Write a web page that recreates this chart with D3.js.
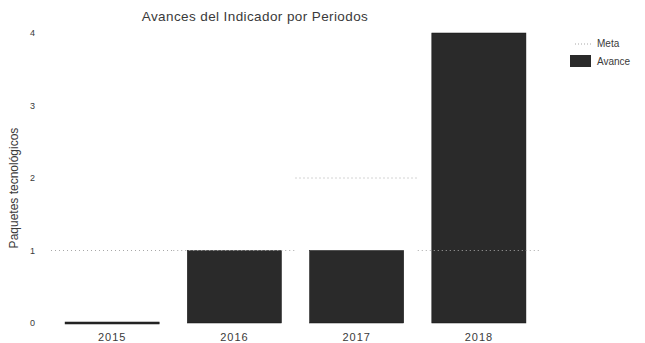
<!DOCTYPE html>
<html>
<head>
<meta charset="utf-8">
<script src="https://cdn.jsdelivr.net/npm/d3@7"></script>
<style>
  html, body { margin: 0; padding: 0; background: #fff; }
  svg { display: block; font-family: "Liberation Sans", Arial, sans-serif; }
</style>
</head>
<body>
<svg id="chart" width="645" height="343"></svg>
<script>
// Periods, progress (bars) and target per period
const periodos = ["2015", "2016", "2017", "2018"];
const avance = [0, 1, 1, 4];
const meta = [1, 1, 2, 1];
const yTicks = [0, 1, 2, 3, 4];

const titulo = "Avances del Indicador por Periodos";
const ejeY = "Paquetes tecnológicos";

const svg = d3.select("#chart");
const plot = { left: 51, right: 540, top: 33, bottom: 323 };

const x = d3.scaleBand()
  .domain(periodos)
  .range([plot.left, plot.right])
  .paddingInner(0.23)
  .paddingOuter(0.115);

const y = d3.scaleLinear()
  .domain([0, 4])
  .range([plot.bottom, plot.top]);

const textColor = "#3a3a3a";
const font = "Liberation Sans, Arial, sans-serif";

// Title
svg.append("text")
  .attr("x", 255).attr("y", 21)
  .attr("text-anchor", "middle")
  .attr("font-size", 13.5)
  .attr("letter-spacing", 0.4)
  .attr("fill", textColor)
  .text(titulo);

// Y axis (labels only)
const yAxis = svg.append("g")
  .attr("transform", `translate(${plot.left - 13},0)`)
  .call(d3.axisLeft(y).tickValues(yTicks).tickFormat(d3.format("d")).tickSize(0));
yAxis.select(".domain").remove();
yAxis.selectAll("text")
  .attr("font-size", 9).attr("fill", textColor)
  .attr("font-family", font);

// Y axis title
svg.append("text")
  .attr("transform", `translate(18,${(plot.top + plot.bottom) / 2 + 10}) rotate(-90)`)
  .attr("text-anchor", "middle")
  .attr("font-size", 12)
  .attr("fill", textColor)
  .text(ejeY);

// X axis (labels only)
const xAxis = svg.append("g")
  .attr("transform", `translate(0,${plot.bottom + 7})`)
  .call(d3.axisBottom(x).tickSize(0));
xAxis.select(".domain").remove();
xAxis.selectAll("text")
  .attr("font-size", 11).attr("letter-spacing", 1)
  .attr("fill", textColor)
  .attr("font-family", font);

// Bars
svg.append("g").selectAll("rect")
  .data(periodos)
  .join("rect")
  .attr("x", d => x(d))
  .attr("width", x.bandwidth())
  .attr("y", (d, i) => y(avance[i]) - (avance[i] === 0 ? 1 : 0))
  .attr("height", (d, i) => Math.max(2, y(0) - y(avance[i])))
  .attr("fill", "#2a2a2a")
  .attr("stroke", "#111")
  .attr("stroke-width", 0.5);

// Target: a faint dotted segment across each period's band
svg.append("g").selectAll("line")
  .data(periodos)
  .join("line")
  .attr("x1", d => x(d) - x.step() * x.paddingInner() / 2)
  .attr("x2", d => x(d) + x.bandwidth() + x.step() * x.paddingInner() / 2)
  .attr("y1", (d, i) => y(meta[i]))
  .attr("y2", (d, i) => y(meta[i]))
  .attr("stroke", "#a8a8a8")
  .attr("stroke-width", 1)
  .attr("stroke-dasharray", "1,3");

// Legend
const leg = svg.append("g").attr("transform", "translate(570,0)");
leg.append("line")
  .attr("x1", 5).attr("x2", 22).attr("y1", 44).attr("y2", 44)
  .attr("stroke", "#a8a8a8").attr("stroke-width", 1).attr("stroke-dasharray", "1,2");
leg.append("text")
  .attr("x", 27).attr("y", 47)
  .attr("font-size", 10).attr("fill", textColor)
  .text("Meta");
leg.append("rect")
  .attr("x", 0).attr("y", 55).attr("width", 21).attr("height", 12)
  .attr("fill", "#2a2a2a");
leg.append("text")
  .attr("x", 27).attr("y", 65)
  .attr("font-size", 10).attr("fill", textColor)
  .text("Avance");
</script>
</body>
</html>
